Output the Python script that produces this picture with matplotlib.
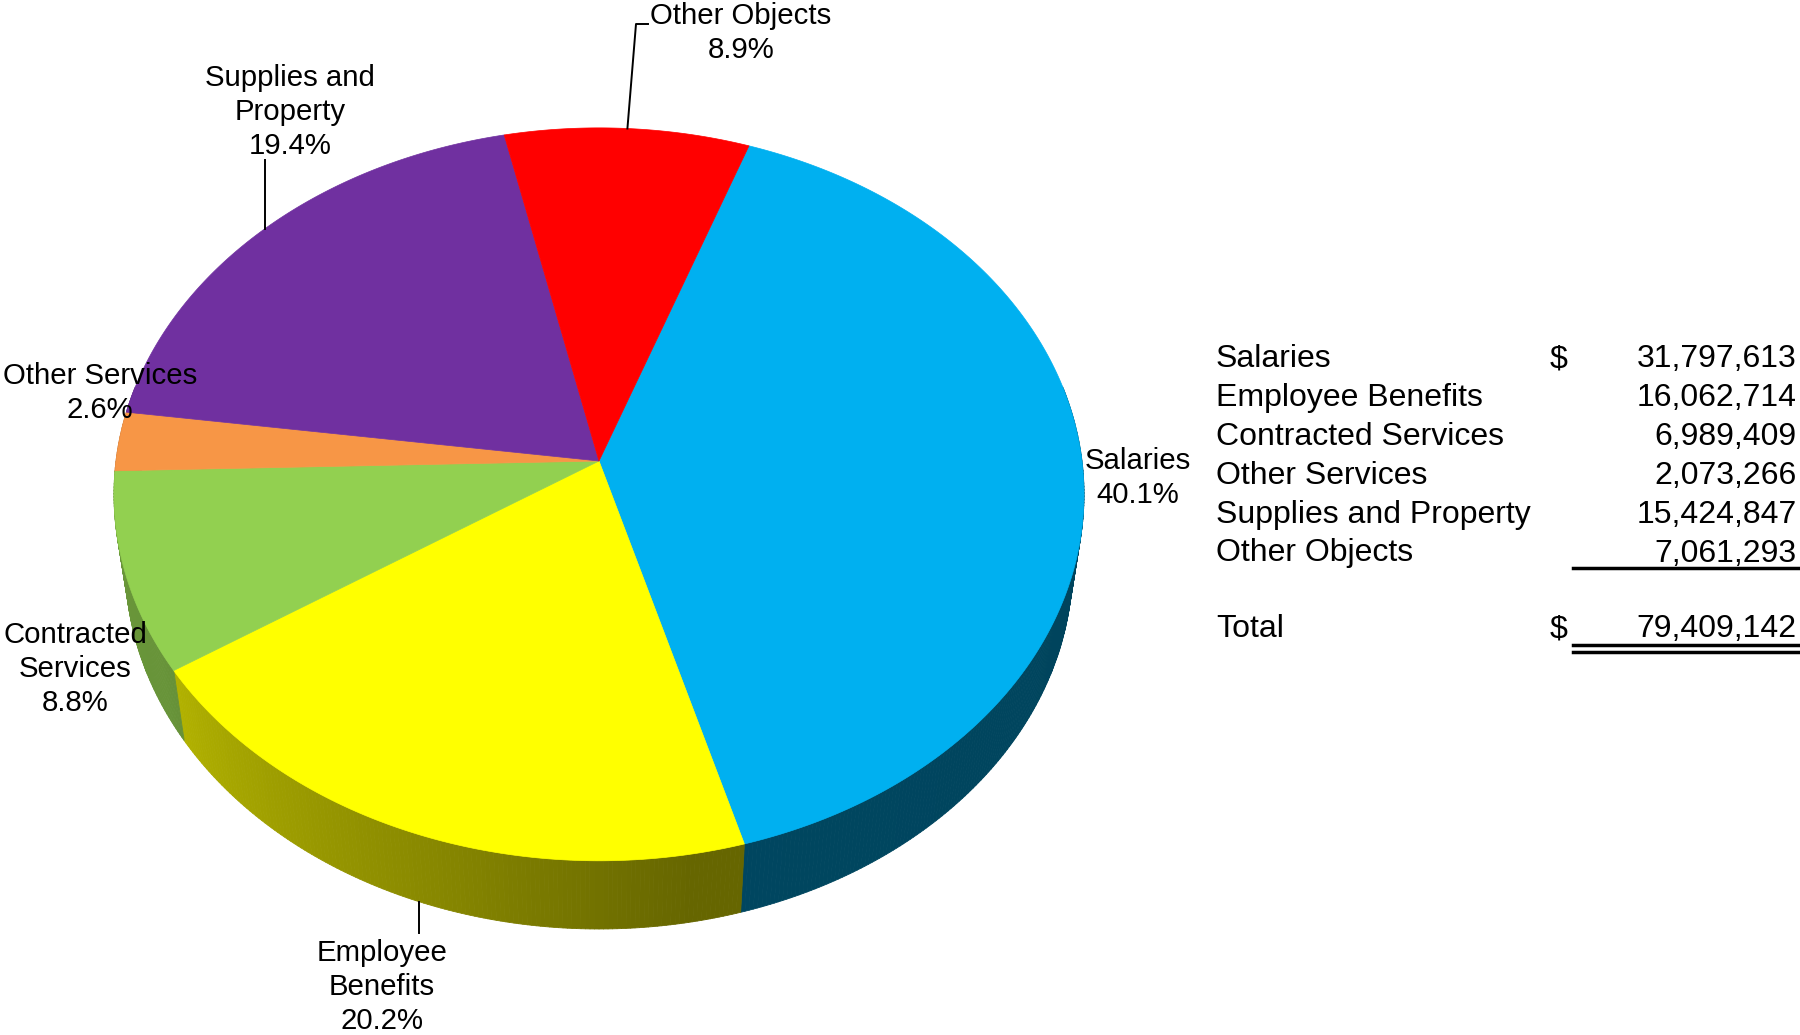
import numpy as np
import matplotlib
matplotlib.use("Agg")
import matplotlib.pyplot as plt
from matplotlib.collections import PolyCollection

plt.rcParams['font.family'] = ['Liberation Sans', 'DejaVu Sans']

# Expenditures by object
categories = ["Salaries", "Employee Benefits", "Contracted Services",
              "Other Services", "Supplies and Property", "Other Objects"]
amounts = [31797613, 16062714, 6989409, 2073266, 15424847, 7061293]
total = 79409142
percents = [40.1, 20.2, 8.8, 2.6, 19.4, 8.9]
pie_labels = ["Salaries\n40.1%", "Employee\nBenefits\n20.2%", "Contracted\nServices\n8.8%",
              "Other Services\n2.6%", "Supplies and\nProperty\n19.4%", "Other Objects\n8.9%"]
colors = ["#00b0f0", "#ffff00", "#92d050", "#f79646", "#7030a0", "#ff0000"]

# --- 3D pie projection (pixel space, y down) ---
W, H = 1800, 1035
cx, cy = 599, 461          # where the pie centre lands
scale = 483                # radius at the centre depth
dist = 7.24                # camera distance in radii
elev = np.radians(48.8)
thick = 0.23
start = 70.3               # first slice edge, going clockwise


def project(theta_deg, z=0.0, r=1.0):
    t = np.radians(theta_deg)
    a, b = r * np.cos(t), r * np.sin(t)
    X = a
    Y = b * np.sin(elev) + z * np.cos(elev)
    Z = dist + b * np.cos(elev) - z * np.sin(elev)
    return cx + scale * dist * X / Z, cy - scale * dist * Y / Z


def side_shade(theta):
    # darker towards the right, lighter at the far left
    return np.interp(theta, [-200, -150, -110, -80, 20], [0.74, 0.71, 0.54, 0.40, 0.38])


def darken(col, f):
    rgb = np.array(matplotlib.colors.to_rgb(col))
    return tuple(rgb * f)


fig = plt.figure(figsize=(W / 100, H / 100), dpi=100)
ax = fig.add_axes([0, 0, 1, 1])
ax.set_xlim(0, W)
ax.set_ylim(H, 0)
ax.axis("off")

edges = start - 3.6 * np.concatenate([[0], np.cumsum(percents)])

# side walls (front half only)
side_polys, side_cols = [], []
for i, col in enumerate(colors):
    a1, a2 = edges[i], edges[i + 1]
    lo, hi = max(a2, -192), min(a1, 12)
    if hi <= lo:
        continue
    ts = np.linspace(hi, lo, int((hi - lo) / 0.5) + 2)
    for t1, t2 in zip(ts[:-1], ts[1:]):
        p = [project(t1, 0), project(t2, 0), project(t2, -thick), project(t1, -thick)]
        side_polys.append(p)
        side_cols.append(darken(col, side_shade(0.5 * (t1 + t2))))
ax.add_collection(PolyCollection(side_polys, facecolors=side_cols, edgecolors=side_cols,
                                 linewidths=0.6, zorder=1))

# top faces
for i, col in enumerate(colors):
    a1, a2 = edges[i], edges[i + 1]
    ts = np.linspace(a1, a2, 200)
    pts = [(cx, cy)] + [project(t) for t in ts]
    ax.add_patch(plt.Polygon(pts, closed=True, facecolor=col, edgecolor=col,
                             linewidth=0.5, zorder=2))

# slice labels
label_pos = [(1138, 478), (382, 987), (75, 669), (100, 393), (290, 112), (741, 33)]
for lab, (lx, ly) in zip(pie_labels, label_pos):
    ax.text(lx, ly, lab, ha="center", va="center", fontsize=21.2,
            linespacing=1.27, zorder=5)

# leader lines from the rim to the labels
mid = lambda i: 0.5 * (edges[i] + edges[i + 1])
x0, y0 = project(mid(5))
ax.plot([x0, 636, 648], [y0, 24, 24], color="black", lw=1.4, zorder=4)
x0, y0 = project(mid(4))
ax.plot([x0, x0], [y0, 160], color="black", lw=1.4, zorder=4)
x0, y0 = project(mid(1), -thick)
ax.plot([x0, x0], [y0, 933], color="black", lw=1.4, zorder=4)

# amounts table
fs = 23
row_y = 359 + 38.9 * np.arange(len(categories))
for k, (name, amt) in enumerate(zip(categories, amounts)):
    ax.text(1216, row_y[k], name, ha="left", va="center", fontsize=fs)
    ax.text(1797, row_y[k], f"{amt:,}", ha="right", va="center", fontsize=fs)
ax.text(1550, row_y[0], "$", ha="left", va="center", fontsize=fs)
ax.plot([1573, 1800], [568, 568], color="black", lw=2.5)

ty = 629
ax.text(1216, ty, "Total", ha="left", va="center", fontsize=fs)
ax.text(1550, ty, "$", ha="left", va="center", fontsize=fs)
ax.text(1797, ty, f"{total:,}", ha="right", va="center", fontsize=fs)
ax.plot([1573, 1800], [645, 645], color="black", lw=2.5)
ax.plot([1573, 1800], [652, 652], color="black", lw=2.5)

fig.savefig("out.png", dpi=100)
